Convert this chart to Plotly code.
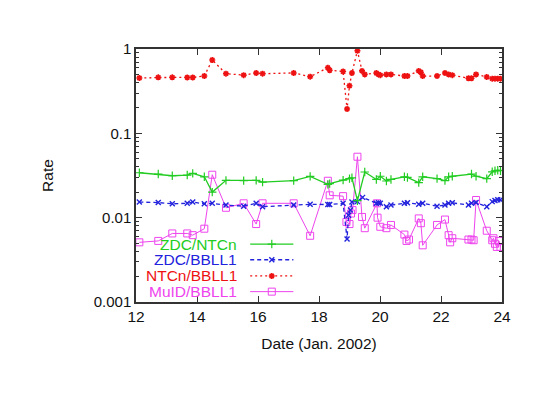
import plotly.graph_objects as go

# ---------------- data ----------------
# NTCn/BBLL1 (red)
ntc_day = [12.11, 12.73, 13.19, 13.68, 13.86, 14.24, 14.5, 14.95, 15.53, 15.94, 16.15, 17.17,
           17.71, 18.29, 18.35, 18.79, 18.92, 19.0, 19.08, 19.26, 19.41, 19.5, 19.88, 19.95, 20.01,
           20.21, 20.36, 20.8, 20.9, 21.27, 21.34, 21.4, 21.87, 22.13, 22.25, 22.37, 22.9, 23.0,
           23.15, 23.5, 23.68, 23.77, 23.86, 23.95]
ntc_rate = [0.453, 0.461, 0.461, 0.46, 0.46, 0.478, 0.74, 0.51, 0.49, 0.52, 0.51, 0.52,
            0.47, 0.60, 0.56, 0.54, 0.194, 0.367, 0.52, 0.955, 0.55, 0.50, 0.52, 0.50, 0.49,
            0.50, 0.50, 0.478, 0.478, 0.55, 0.53, 0.478, 0.478, 0.52, 0.50, 0.49, 0.45, 0.45,
            0.50, 0.466, 0.445, 0.445, 0.445, 0.445]

# ZDC/NTCn (green)
zn_day = [12.11, 12.73, 13.19, 13.68, 13.86, 14.24, 14.5, 14.95, 15.53, 15.94, 16.15, 17.17,
          17.71, 18.29, 18.35, 18.79, 19.0, 19.08, 19.26, 19.5, 19.88, 20.01, 20.21, 20.36,
          20.8, 20.9, 21.27, 21.4, 21.87, 22.13, 22.25, 22.37, 23.0, 23.15, 23.5, 23.68,
          23.77, 23.86, 23.95]
zn_rate = [0.0341, 0.0329, 0.0314, 0.032, 0.0335, 0.0305, 0.0201, 0.0277, 0.0275, 0.0277, 0.0264, 0.0275,
           0.0309, 0.0248, 0.0253, 0.0279, 0.029, 0.0297, 0.0159, 0.0348, 0.0284, 0.031, 0.0272, 0.0284,
           0.0305, 0.030, 0.026, 0.0305, 0.029, 0.0275, 0.0305, 0.031, 0.0329, 0.031, 0.029, 0.035,
           0.036, 0.0365, 0.036]

# ZDC/BBLL1 (blue)
zb_day = [12.11, 12.73, 13.19, 13.68, 13.86, 14.24, 14.5, 14.95, 15.53, 15.94, 16.15, 17.17,
          17.71, 18.29, 18.35, 18.79, 18.92, 18.97, 19.03, 19.08, 19.26, 19.43, 19.88, 19.95, 20.01,
          20.21, 20.36, 20.8, 20.9, 21.27, 21.4, 21.87, 22.13, 22.25, 22.37, 22.9, 23.0,
          23.15, 23.5, 23.68, 23.77, 23.86, 23.95]
zb_rate = [0.0153, 0.0151, 0.0146, 0.0148, 0.0153, 0.0146, 0.0148, 0.0141, 0.0137, 0.0148, 0.0135, 0.0141,
           0.0144, 0.0143, 0.0143, 0.0148, 0.0056, 0.0107, 0.0123, 0.0153, 0.0155, 0.0174, 0.0148, 0.015, 0.0148,
           0.0135, 0.0141, 0.0148, 0.015, 0.0144, 0.0148, 0.0137, 0.0141, 0.0148, 0.015, 0.0141, 0.0148,
           0.0151, 0.0135, 0.0155, 0.016, 0.0163, 0.0163]

# MuID/BBLL1 (magenta)
mu_day = [12.11, 12.73, 13.19, 13.68, 13.86, 14.24, 14.5, 14.95, 15.53, 15.94, 16.15, 17.17,
          17.71, 18.29, 18.35, 18.79, 18.9, 19.0, 19.05, 19.1, 19.26, 19.41, 19.5, 19.9, 19.92, 20.01,
          20.21, 20.36, 20.8, 20.87, 20.95, 21.27, 21.34, 21.4, 21.87, 22.13, 22.25, 22.3, 22.37,
          22.9, 23.0, 23.07, 23.15, 23.5, 23.68, 23.72, 23.77, 23.83, 23.9, 23.95]
mu_rate = [0.0051, 0.0053, 0.0065, 0.0065, 0.0062, 0.0074, 0.0323, 0.0131, 0.0148, 0.0084, 0.0148, 0.0148,
           0.0061, 0.0274, 0.0184, 0.018, 0.0089, 0.0084, 0.0112, 0.0123, 0.0528, 0.0102, 0.0075, 0.0148, 0.010, 0.0078,
           0.0075, 0.0082, 0.0063, 0.0053, 0.0055, 0.0098, 0.0086, 0.0047, 0.0082, 0.0095, 0.0062, 0.0051, 0.0057,
           0.0055, 0.0055, 0.0054, 0.0162, 0.007, 0.0054, 0.0057, 0.0049, 0.0045, 0.0053, 0.0045]

x_ticks = [12, 14, 16, 18, 20, 22, 24]
y_ticks = [0.001, 0.01, 0.1, 1]
y_tick_text = ["0.001", "0.01", "0.1", "1"]

series_names = ["ZDC/NTCn", "ZDC/BBLL1", "NTCn/BBLL1", "MuID/BBLL1"]

# ---------------- styles ----------------
FONT = "Liberation Sans, Arial, Helvetica, sans-serif"
GREEN = "#22cc22"
BLUE = "#2222dd"
RED = "#ee1111"
MAG = "#ee44ee"
AXC = "#333333"

styles = [
    dict(color=GREEN, dash="solid", width=1.3, symbol="cross-thin", size=6, mlw=1.2),
    dict(color=BLUE, dash="4px,3px", width=1.3, symbol="x-thin", size=5, mlw=1.4),
    dict(color=RED, dash="2px,3px", width=1.3, symbol="asterisk-open", size=5, mlw=1.6),
    dict(color=MAG, dash="solid", width=1.0, symbol="square-open", size=7, mlw=1.0),
]

fig = go.Figure()

data = [(zn_day, zn_rate), (zb_day, zb_rate), (ntc_day, ntc_rate), (mu_day, mu_rate)]
for idx in [3, 2, 1, 0]:
    xs, ys = data[idx]
    s = styles[idx]
    fig.add_trace(go.Scatter(
        x=xs, y=ys, mode="lines+markers", name=series_names[idx], showlegend=False,
        line=dict(color=s["color"], dash=s["dash"], width=s["width"]),
        marker=dict(symbol=s["symbol"], size=s["size"], color=s["color"],
                    line=dict(color=s["color"], width=s["mlw"])),
    ))

# ---------------- custom legend (text then sample, like the original) ----------------
leg_y = [0.229, 0.167, 0.103, 0.041]
for i, name in enumerate(series_names):
    s = styles[i]
    fig.add_annotation(xref="paper", yref="paper", x=0.281, y=leg_y[i], text=name,
                       showarrow=False, xanchor="right", yanchor="middle",
                       font=dict(family=FONT, size=15.5, color=s["color"]))
    fig.add_trace(go.Scatter(
        x=[0.312, 0.43], y=[leg_y[i], leg_y[i]], mode="lines", xaxis="x2", yaxis="y2",
        showlegend=False, hoverinfo="skip",
        line=dict(color=s["color"], dash=s["dash"], width=s["width"]),
    ))
    fig.add_trace(go.Scatter(
        x=[0.371], y=[leg_y[i]], mode="markers", xaxis="x2", yaxis="y2",
        showlegend=False, hoverinfo="skip",
        marker=dict(symbol=s["symbol"], size=s["size"], color=s["color"],
                    line=dict(color=s["color"], width=s["mlw"])),
    ))

minor_vals = [m * 10 ** e for e in (-3, -2, -1) for m in range(2, 10)]

# The page body has an 8px default margin; figure size is reduced so it fits the window.
fig.update_layout(
    width=552, height=387,
    margin=dict(l=128, r=58, t=41, b=93),
    paper_bgcolor="white", plot_bgcolor="white",
    font=dict(family=FONT, size=15, color="#111111"),
    xaxis=dict(
        range=[12, 24], tickmode="array", tickvals=x_ticks,
        ticks="inside", ticklen=6, tickcolor=AXC, tickwidth=1,
        showline=True, linecolor=AXC, linewidth=1.5, mirror="ticks",
        showgrid=False, zeroline=False,
        tickfont=dict(family=FONT, size=15.5, color="#111111"),
        title=dict(text="Date (Jan. 2002)", font=dict(family=FONT, size=15.5), standoff=14),
    ),
    yaxis=dict(
        type="log", range=[-3, 0], tickmode="array", tickvals=y_ticks, ticktext=y_tick_text,
        ticks="inside", ticklen=6, tickcolor=AXC, tickwidth=1,
        showline=True, linecolor=AXC, linewidth=1.5, mirror="ticks",
        showgrid=False, zeroline=False,
        minor=dict(ticks="inside", ticklen=3, tickcolor=AXC, tickvals=minor_vals, showgrid=False),
        tickfont=dict(family=FONT, size=15, color="#111111"),
        title=dict(text="Rate", font=dict(family=FONT, size=15.5), standoff=36),
    ),
    xaxis2=dict(range=[0, 1], overlaying="x", visible=False, fixedrange=True),
    yaxis2=dict(range=[0, 1], overlaying="y", visible=False, fixedrange=True),
)

fig.write_html("out.html")
